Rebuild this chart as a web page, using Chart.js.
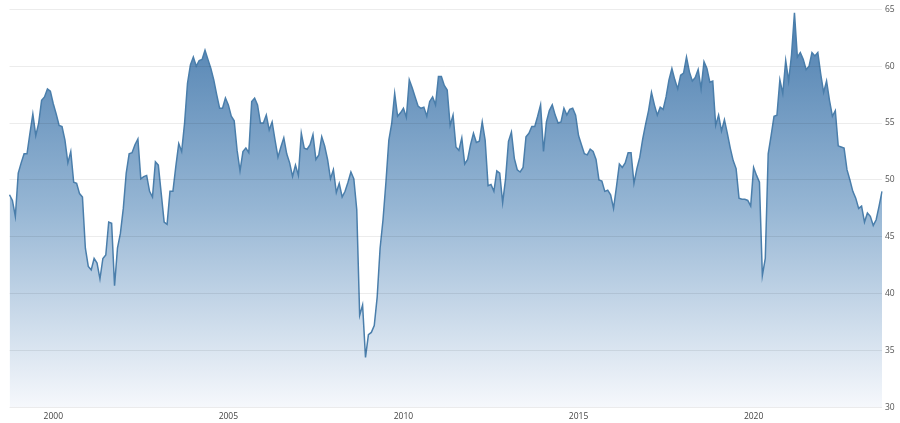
<!DOCTYPE html>
<html>
<head>
<meta charset="utf-8">
<script src="https://cdn.jsdelivr.net/npm/chart.js@4/dist/chart.umd.min.js"></script>
<style>
  html, body { margin: 0; padding: 0; background: #fff; }
  #wrap { width: 900px; height: 423px; position: relative; }
</style>
</head>
<body>
<div id="wrap"><canvas id="pmiChart"></canvas></div>
<script>
// monthly readings, first one is Oct 1998
const startYear = 1998;
const startMonth = 10;
const values = [
  48.7, 48.2, 46.8,
  50.6, 51.5, 52.3, 52.3, 54.1, 55.8, 53.9, 55.0, 57.0, 57.3, 58.0, 57.8,
  56.7, 55.8, 54.8, 54.7, 53.5, 51.5, 52.5, 49.8, 49.7, 48.8, 48.5, 44.0,
  42.4, 42.1, 43.1, 42.7, 41.3, 43.1, 43.4, 46.3, 46.2, 40.7, 44.0, 45.3,
  47.5, 50.6, 52.3, 52.4, 53.1, 53.6, 50.1, 50.3, 50.4, 49.0, 48.5, 51.6,
  51.3, 48.8, 46.3, 46.1, 49.0, 49.0, 51.2, 53.2, 52.5, 55.0, 58.5, 60.1,
  60.8, 60.0, 60.5, 60.6, 61.4, 60.6, 59.8, 58.8, 57.5, 56.3, 56.3, 57.2,
  56.6, 55.6, 55.2, 52.6, 50.8, 52.5, 52.8, 52.4, 56.9, 57.2, 56.6, 55.0,
  55.0, 55.7, 54.4, 55.1, 53.5, 52.0, 52.9, 53.7, 52.3, 51.5, 50.3, 51.3,
  50.4, 54.1, 52.8, 52.7, 53.1, 54.0, 51.8, 52.2, 53.8, 53.0, 51.8, 50.1,
  50.9, 48.9, 49.7, 48.5, 49.0, 49.8, 50.7, 50.1, 47.4, 38.1, 39.0, 34.4,
  36.4, 36.6, 37.2, 39.7, 44.0, 46.5, 49.8, 53.5, 55.0, 57.6, 55.6, 55.9,
  56.3, 55.5, 58.8, 58.1, 57.3, 56.5, 56.3, 56.4, 55.6, 56.9, 57.3, 56.6,
  59.1, 59.1, 58.3, 57.9, 54.8, 55.7, 52.9, 52.6, 53.7, 51.4, 51.8, 53.1,
  54.1, 53.3, 53.4, 55.1, 53.5, 49.5, 49.6, 49.0, 50.8, 50.6, 48.0, 50.1,
  53.4, 54.2, 51.9, 50.9, 50.7, 51.1, 53.8, 54.1, 54.7, 54.7, 55.6, 56.6,
  52.5, 55.1, 56.1, 56.6, 55.7, 55.0, 55.1, 56.3, 55.7, 56.2, 56.3, 55.7,
  53.9, 53.1, 52.3, 52.2, 52.7, 52.5, 51.8, 50.0, 49.9, 49.0, 49.1, 48.7,
  47.5, 49.4, 51.4, 51.1, 51.5, 52.4, 52.4, 49.7, 51.0, 52.0, 53.6, 54.9,
  56.1, 57.7, 56.6, 55.7, 56.4, 56.2, 57.3, 58.8, 59.8, 58.8, 58.0, 59.2,
  59.4, 60.8, 59.5, 58.7, 59.0, 59.7, 58.0, 60.4, 59.8, 58.6, 58.7, 54.8,
  55.7, 54.3, 55.3, 54.1, 52.8, 51.7, 51.0, 48.4, 48.3, 48.3, 48.2, 47.7,
  51.1, 50.4, 49.8, 41.6, 43.1, 52.3, 53.9, 55.6, 55.7, 58.8, 57.6, 60.5,
  58.7, 61.0, 64.7, 60.8, 61.2, 60.6, 59.7, 60.0, 61.2, 60.9, 61.2, 59.3,
  57.7, 58.7, 57.0, 55.6, 56.1, 53.0, 52.9, 52.8, 50.9, 50.0, 49.0, 48.4,
  47.5, 47.7, 46.3, 47.1, 46.8, 46.0, 46.5, 47.7, 49.0
];
const tickYears = ['2000', '2005', '2010', '2015', '2020'];
const yMin = 30, yMax = 65, yStep = 5;

// month labels like "2000-01"
const labels = values.map((v, i) => {
  const m = startMonth - 1 + i;
  return (startYear + Math.floor(m / 12)) + '-' + String(m % 12 + 1).padStart(2, '0');
});

function yearTick(index) {
  const lab = labels[index];
  if (!lab || !lab.endsWith('-01')) return null;
  const yr = lab.slice(0, 4);
  return tickYears.includes(yr) ? yr : null;
}

// grid is drawn over the fill, so keep it translucent
const gridColor = 'rgba(0,0,0,0.075)';

const config = {
  type: 'line',
  data: {
    labels: labels,
    datasets: [{
      data: values,
      borderColor: '#4a7eab',
      borderWidth: 1.5,
      pointRadius: 0,
      tension: 0,
      fill: 'start',
      backgroundColor: function(context) {
        const area = context.chart.chartArea;
        if (!area) return 'rgba(90,140,185,0.6)';
        const g = context.chart.ctx.createLinearGradient(0, area.top, 0, area.bottom);
        g.addColorStop(0, 'rgb(76,126,175)');
        g.addColorStop(0.5, 'rgb(150,182,212)');
        g.addColorStop(1, 'rgb(246,248,252)');
        return g;
      }
    }]
  },
  options: {
    responsive: true,
    maintainAspectRatio: false,
    animation: false,
    layout: { padding: { left: 9.5, top: 9.3, right: 0, bottom: 0 } },
    plugins: { legend: { display: false }, tooltip: { enabled: false } },
    scales: {
      x: {
        offset: false,
        border: { display: false },
        grid: {
          z: 1,
          color: ctx => (ctx.tick && yearTick(ctx.index)) ? gridColor : 'rgba(0,0,0,0)',
          tickColor: ctx => (ctx.tick && yearTick(ctx.index)) ? gridColor : 'rgba(0,0,0,0)',
          tickLength: 3
        },
        ticks: {
          autoSkip: false,
          maxRotation: 0,
          padding: 1,
          color: '#444',
          font: { family: 'Open Sans', size: 8.5 },
          callback: function(value, index) { return yearTick(index); }
        },
        afterFit: function(scale) { scale.height = 15.5; }
      },
      y: {
        position: 'right',
        min: yMin,
        max: yMax,
        border: { display: false },
        grid: { z: 1, color: gridColor, drawTicks: false },
        ticks: {
          stepSize: yStep,
          padding: 3,
          color: '#555',
          font: { family: 'Open Sans', size: 8.5 }
        },
        afterFit: function(scale) { scale.width = 18; }
      }
    }
  }
};

var ctx = document.getElementById('pmiChart').getContext('2d');
new Chart(ctx, config);
</script>
</body>
</html>
